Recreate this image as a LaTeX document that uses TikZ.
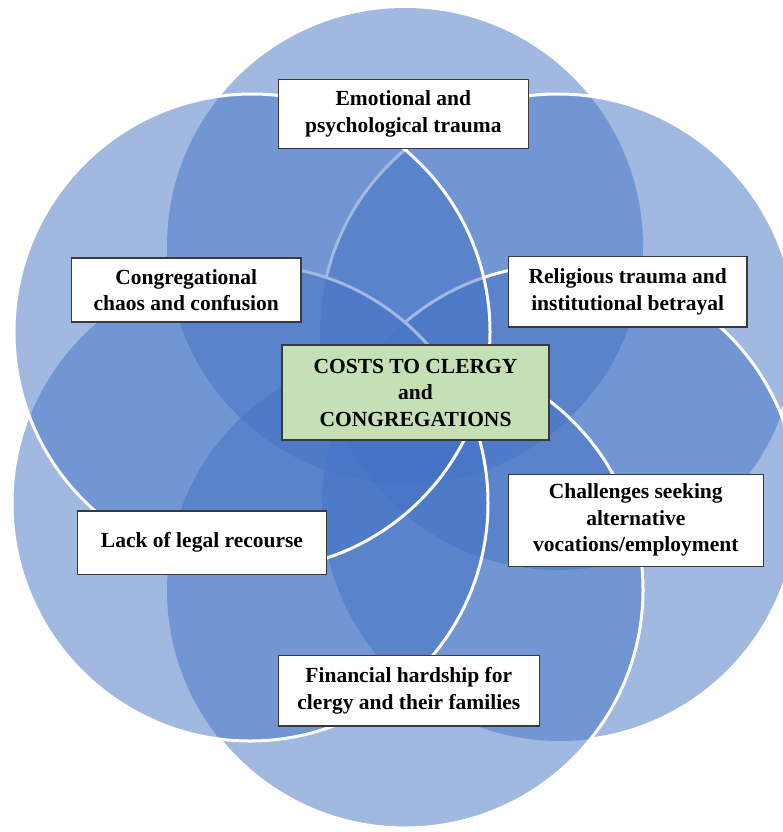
\documentclass[tikz,border=0pt]{standalone}
\usepackage{fontspec}
\setmainfont{Liberation Serif}
\definecolor{venn}{HTML}{4472C4}
\definecolor{hubgreen}{HTML}{C5E0B4}
\definecolor{boxline}{HTML}{3A3A3A}
\newcommand\R{238}
% clip away the inside of one circle (rectangle and circle run in opposite directions)
\newcommand\holeclip[1]{\clip (-30,-30) -- (830,-30) -- (830,880) -- (-30,880) -- cycle
  (#1) ++(\R,0) arc[start angle=0,end angle=-360,radius=\R];}
\tikzset{
  disc/.style={fill=venn, fill opacity=0.5},
  rim/.style={draw=white, line width=3},
  lbl/.style={draw=boxline, line width=1.2, fill=white, align=center, inner sep=0pt,
    font=\bfseries\fontsize{21.5}{26.5}\selectfont},
  hub/.style={lbl, fill=hubgreen}
}
\begin{document}
\begin{tikzpicture}[x=1pt,y=-1pt]
\useasboundingbox (0,0) rectangle (782,832);
% circle centres
\coordinate (cT)  at (405,246);
\coordinate (cUR) at (558,332);
\coordinate (cLR) at (560,503);
\coordinate (cB)  at (405,590);
\coordinate (cLL) at (250,503);
\coordinate (cUL) at (252,332);
% translucent discs
\fill[disc] (cT)  circle[radius=\R];
\fill[disc] (cUR) circle[radius=\R];
\fill[disc] (cLR) circle[radius=\R];
\fill[disc] (cB)  circle[radius=\R];
\fill[disc] (cLL) circle[radius=\R];
% white rims, hidden where a later disc lies on top
\begin{scope}
  \holeclip{cLR}\holeclip{cB}\holeclip{cLL}
  \draw[rim] (cUR) circle[radius=\R];
\end{scope}
\begin{scope}
  \holeclip{cB}\holeclip{cLL}
  \draw[rim] (cLR) circle[radius=\R];
\end{scope}
\begin{scope}
  \holeclip{cLL}
  \draw[rim] (cB) circle[radius=\R];
\end{scope}
\draw[rim] (cLL) circle[radius=\R];
% last disc
\fill[disc] (cUL) circle[radius=\R];
\draw[rim] (cUL) circle[radius=\R];
% labels
\node[lbl, minimum width=250, minimum height=69] (emo) at (403.3,113.8)
  {Emotional and\\psychological trauma};
\node[lbl, minimum width=229.5, minimum height=64] (cong) at (186.3,290)
  {Congregational\\chaos and confusion};
\node[lbl, minimum width=238.5, minimum height=70.3] (rel) at (627.7,291.8)
  {Religious trauma and\\institutional betrayal};
\node[hub, minimum width=267, minimum height=95] (hubnode) at (415.5,392.5)
  {COSTS TO CLERGY\\and\\CONGREGATIONS};
\node[lbl, minimum width=254.7, minimum height=92.3] (chal) at (635.8,520.3)
  {Challenges seeking\\alternative\\vocations/employment};
\node[lbl, minimum width=249.4, minimum height=63.5] (legal) at (202,542.7)
  {Lack of legal recourse};
\node[lbl, minimum width=261, minimum height=70.5] (fin) at (408.8,690.8)
  {Financial hardship for\\clergy and their families};
\end{tikzpicture}
\end{document}
